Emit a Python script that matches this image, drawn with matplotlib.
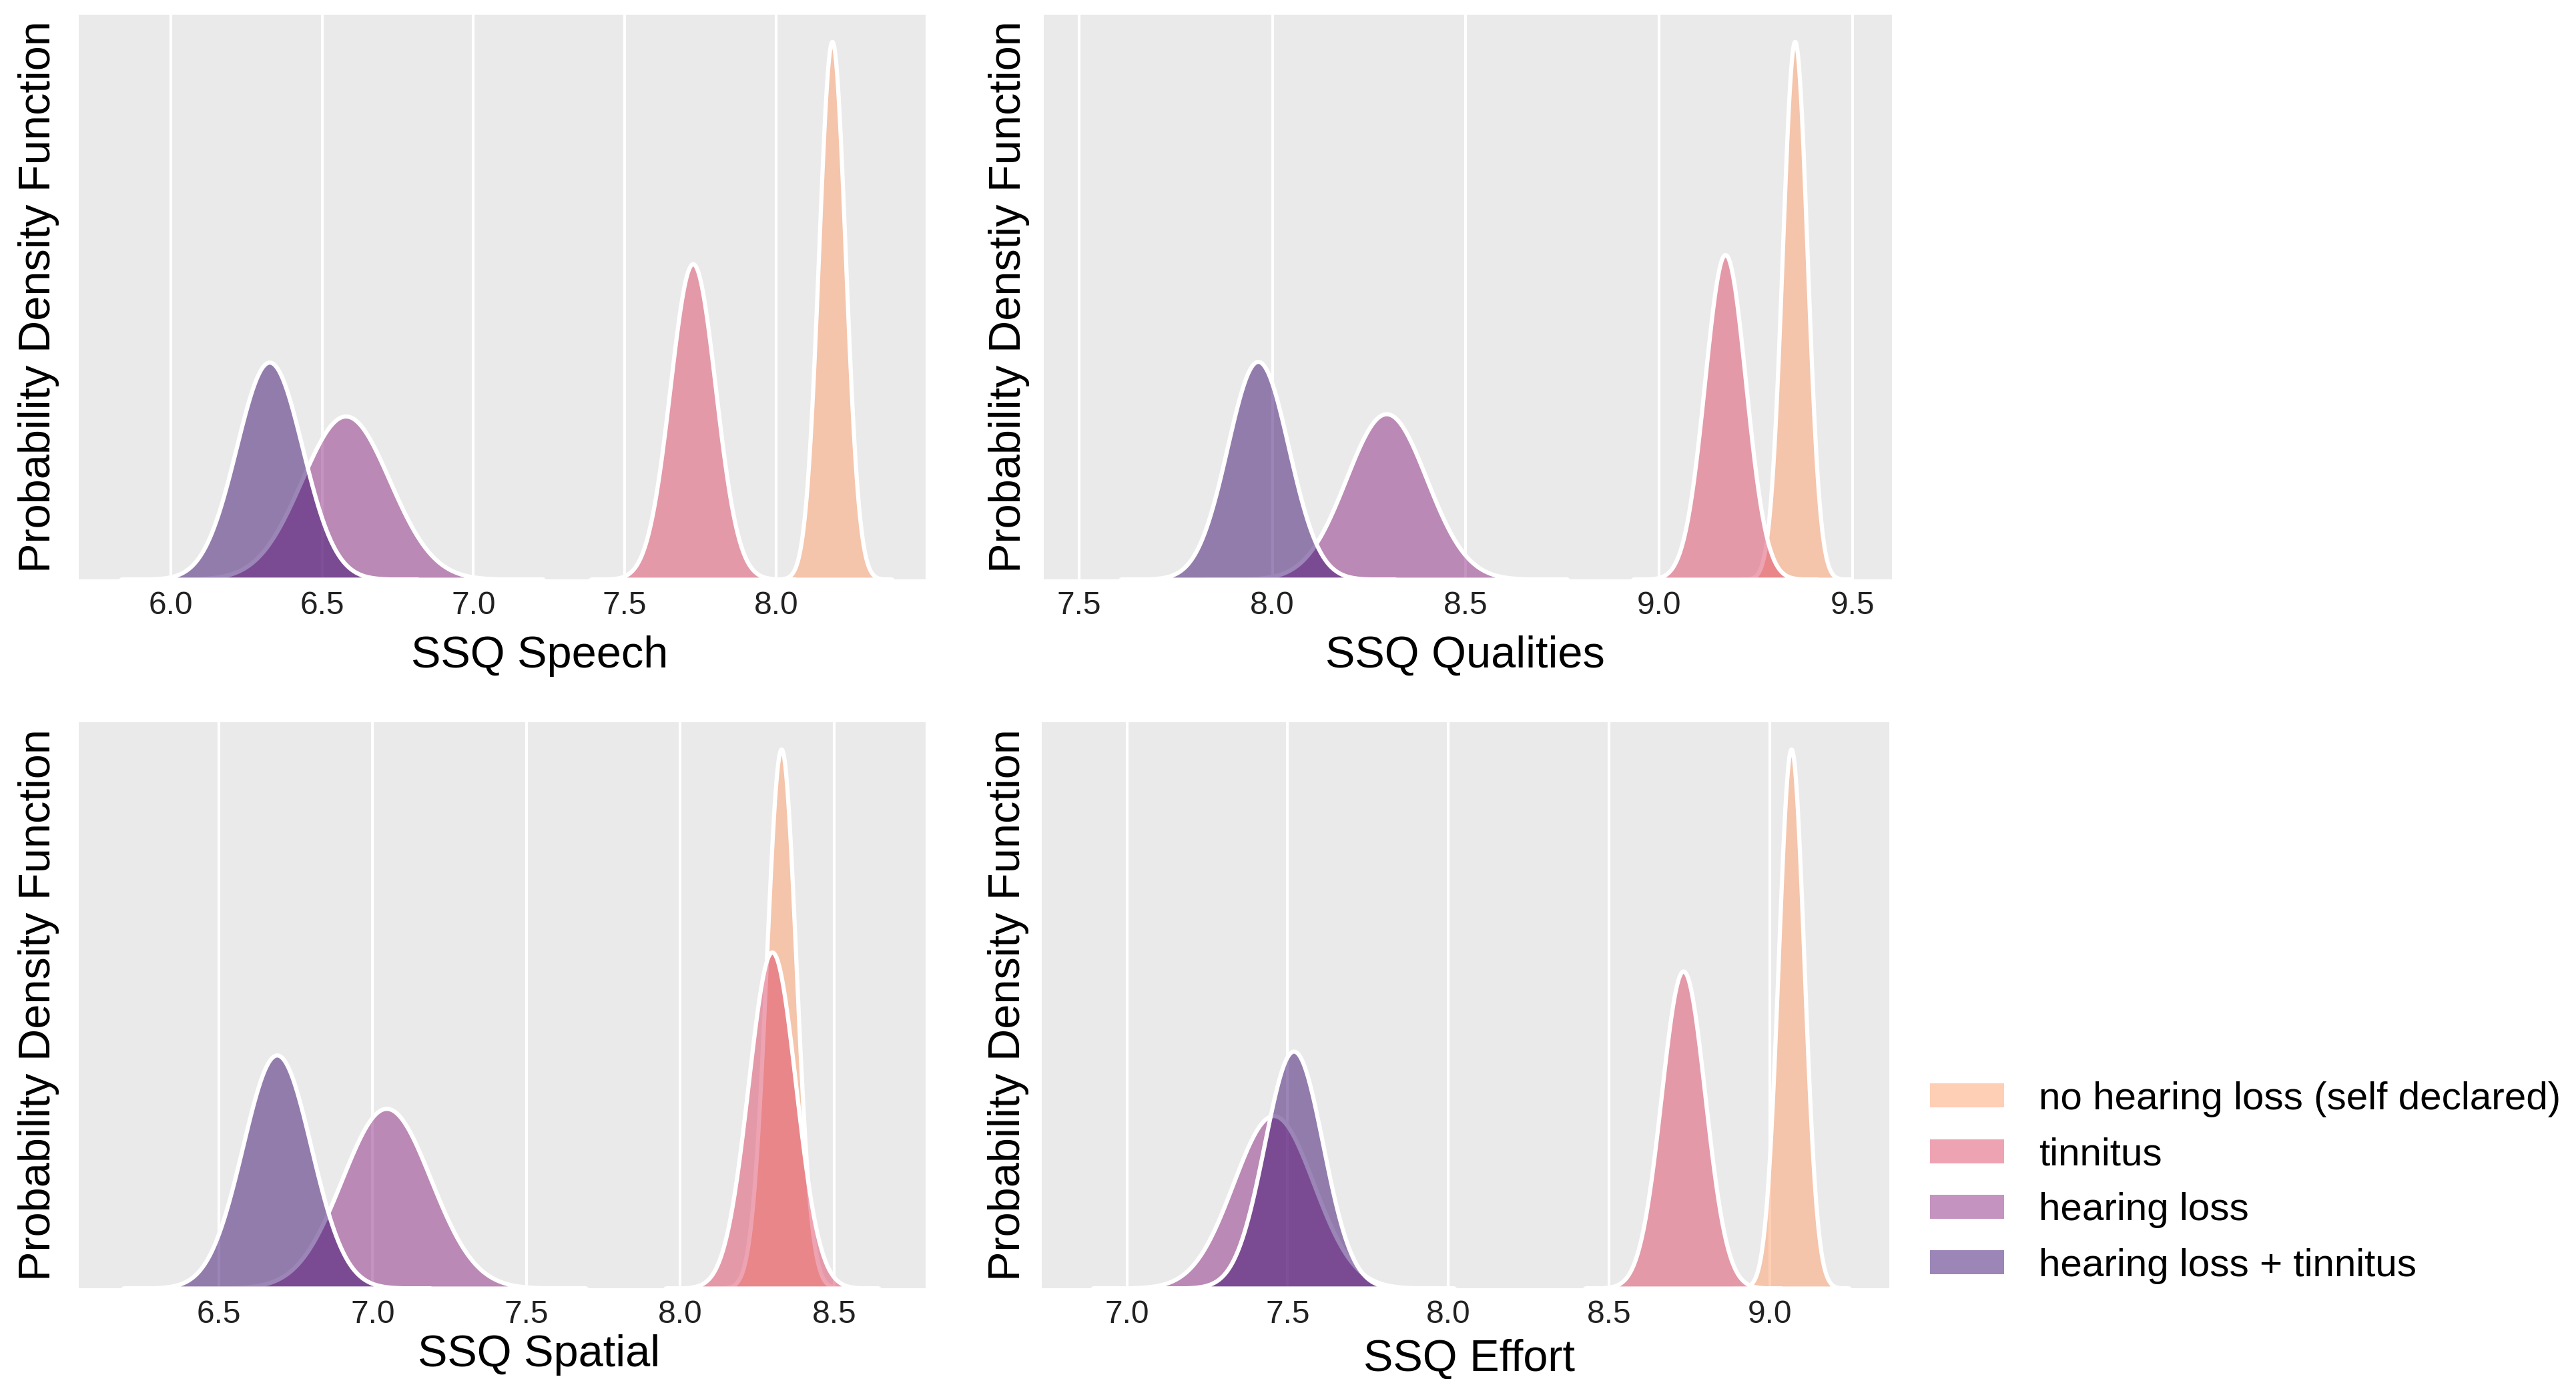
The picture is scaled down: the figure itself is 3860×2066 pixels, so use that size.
"""SSQ subscale posterior densities by hearing group, 2x2 panel figure."""
import numpy as np
import matplotlib
matplotlib.use("Agg")
import matplotlib.pyplot as plt
from matplotlib.colors import to_rgba
from matplotlib.patches import Patch

plt.rcParams["font.family"] = ["Liberation Sans", "DejaVu Sans"]

groups = ["no hearing loss (self declared)", "tinnitus", "hearing loss",
          "hearing loss + tinnitus"]
colors = ["#FE9F6D", "#DE4968", "#8C2981", "#3B0F70"]   # magma, light -> dark

xlabels = ["SSQ Speech", "SSQ Qualities", "SSQ Spatial", "SSQ Effort"]
ylabels = ["Probability Density Function", "Probability Denstiy Function",
           "Probability Density Function", "Probability Density Function"]

# centre / spread of each group's density, in `groups` order
speech_mean = [8.185, 7.725, 6.578, 6.326]
speech_sd = [0.044, 0.075, 0.145, 0.109]
qualities_mean = [9.351, 9.171, 8.295, 7.963]
qualities_sd = [0.032, 0.053, 0.104, 0.079]
spatial_mean = [8.328, 8.298, 7.045, 6.689]
spatial_sd = [0.048, 0.077, 0.144, 0.111]
effort_mean = [9.067, 8.731, 7.456, 7.519]
effort_sd = [0.040, 0.068, 0.125, 0.091]

xlims = [(5.696, 8.494), (7.409, 9.602), (6.045, 8.797), (6.735, 9.372)]
xticks = [[6.0, 6.5, 7.0, 7.5, 8.0], [7.5, 8.0, 8.5, 9.0, 9.5],
          [6.5, 7.0, 7.5, 8.0, 8.5], [7.0, 7.5, 8.0, 8.5, 9.0]]

panels = [(speech_mean, speech_sd), (qualities_mean, qualities_sd),
          (spatial_mean, spatial_sd), (effort_mean, effort_sd)]

W, H = 3861, 2066
fig = plt.figure(figsize=(W / 300, H / 300), dpi=300)

# axes boxes in pixels: left, bottom edge (from top), width, height
boxes = [(118, 868, 1269, 846), (1564, 868, 1271, 846),
         (118, 1930, 1269, 848), (1561, 1930, 1270, 848)]
xlabel_pos = [(0.544, -0.136), (0.497, -0.135), (0.543, -0.118), (0.504, -0.126)]
ylabel_x = [-0.047, -0.041, -0.047, -0.039]

for k, ((means, sds), box) in enumerate(zip(panels, boxes)):
    l, b, w, h = box
    ax = fig.add_axes([l / W, 1 - b / H, w / W, h / H])
    ax.set_facecolor("#EAEAEA")
    ax.set_axisbelow(True)
    ax.grid(axis="x", color="white", lw=1.0)
    for s in ax.spines.values():
        s.set_visible(False)

    peak = 0
    for m, sd, c in zip(means, sds, colors):
        x = np.linspace(m - 4.5 * sd, m + 4.5 * sd, 400)
        y = np.exp(-0.5 * ((x - m) / sd) ** 2) / (sd * np.sqrt(2 * np.pi))
        ax.fill_between(x, 0, y, facecolor=to_rgba(c, 0.5), edgecolor="white",
                        lw=1.5)
        peak = max(peak, y.max())

    ax.set_xlim(*xlims[k])
    ax.set_ylim(0, peak * 1.05)
    ax.set_xticks(xticks[k])
    ax.set_xticklabels([f"{t:.1f}" for t in xticks[k]])
    ax.set_yticks([])
    ax.tick_params(axis="x", length=0, pad=4, labelsize=11.5, labelcolor="#222222")

    ax.set_xlabel(xlabels[k], fontsize=16)
    ax.xaxis.label.set_va("center")
    ax.xaxis.set_label_coords(*xlabel_pos[k])
    ax.set_ylabel(ylabels[k], fontsize=16)
    ax.yaxis.label.set_va("center")
    ax.yaxis.set_label_coords(ylabel_x[k], 0.5)

handles = [Patch(facecolor=to_rgba(c, 0.5), edgecolor="none") for c in colors]
fig.legend(handles, groups, loc="upper left", bbox_to_anchor=(2892 / W, 1 - 1620 / H),
           frameon=False, fontsize=14, borderpad=0, borderaxespad=0,
           handlelength=1.9, handleheight=0.57, handletextpad=0.9, labelspacing=0.5)

fig.savefig("out.png", dpi=300)
